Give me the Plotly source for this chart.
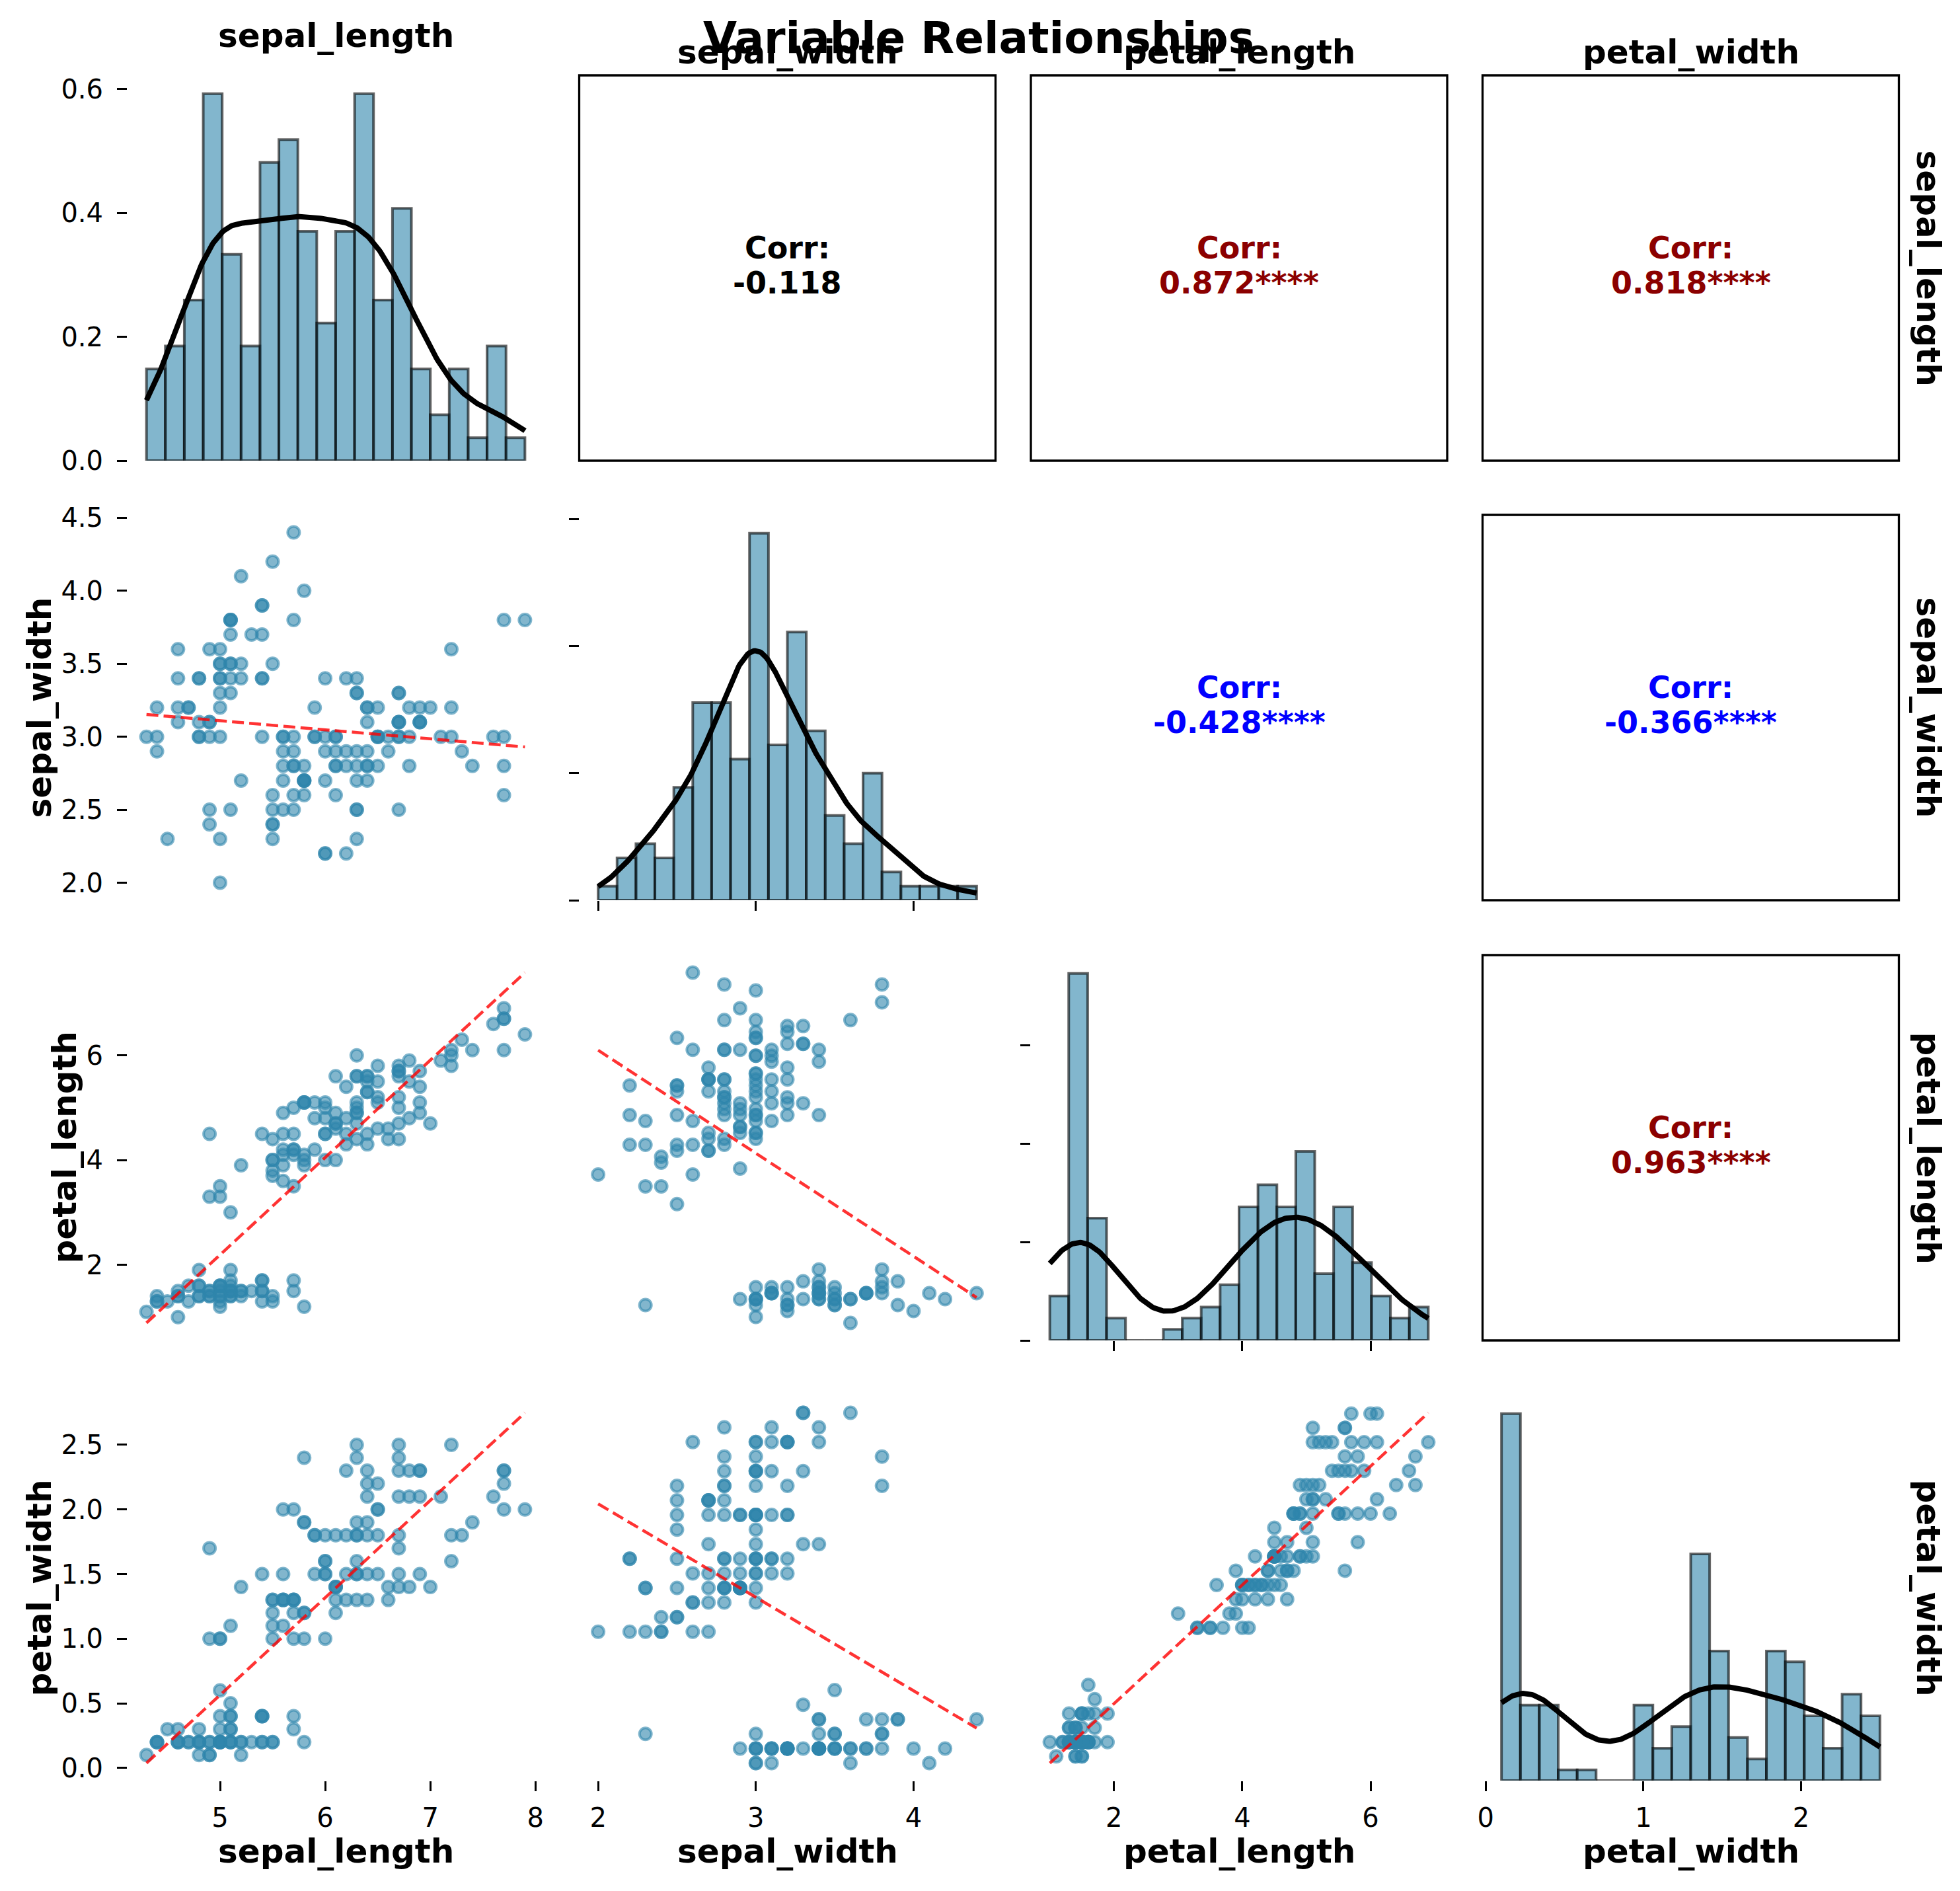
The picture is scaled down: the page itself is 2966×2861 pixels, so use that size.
import numpy as np
import plotly.graph_objects as go

variables = ["sepal_length", "sepal_width", "petal_length", "petal_width"]

sepal_length = [5.1, 4.9, 4.7, 4.6, 5.0, 5.4, 4.6, 5.0, 4.4, 4.9, 5.4, 4.8, 4.8, 4.3, 5.8, 5.7, 5.4, 5.1, 5.7, 5.1,
                5.4, 5.1, 4.6, 5.1, 4.8, 5.0, 5.0, 5.2, 5.2, 4.7, 4.8, 5.4, 5.2, 5.5, 4.9, 5.0, 5.5, 4.9, 4.4, 5.1,
                5.0, 4.5, 4.4, 5.0, 5.1, 4.8, 5.1, 4.6, 5.3, 5.0, 7.0, 6.4, 6.9, 5.5, 6.5, 5.7, 6.3, 4.9, 6.6, 5.2,
                5.0, 5.9, 6.0, 6.1, 5.6, 6.7, 5.6, 5.8, 6.2, 5.6, 5.9, 6.1, 6.3, 6.1, 6.4, 6.6, 6.8, 6.7, 6.0, 5.7,
                5.5, 5.5, 5.8, 6.0, 5.4, 6.0, 6.7, 6.3, 5.6, 5.5, 5.5, 6.1, 5.8, 5.0, 5.6, 5.7, 5.7, 6.2, 5.1, 5.7,
                6.3, 5.8, 7.1, 6.3, 6.5, 7.6, 4.9, 7.3, 6.7, 7.2, 6.5, 6.4, 6.8, 5.7, 5.8, 6.4, 6.5, 7.7, 7.7, 6.0,
                6.9, 5.6, 7.7, 6.3, 6.7, 7.2, 6.2, 6.1, 6.4, 7.2, 7.4, 7.9, 6.4, 6.3, 6.1, 7.7, 6.3, 6.4, 6.0, 6.9,
                6.7, 6.9, 5.8, 6.8, 6.7, 6.7, 6.3, 6.5, 6.2, 5.9]
sepal_width = [3.5, 3.0, 3.2, 3.1, 3.6, 3.9, 3.4, 3.4, 2.9, 3.1, 3.7, 3.4, 3.0, 3.0, 4.0, 4.4, 3.9, 3.5, 3.8, 3.8,
               3.4, 3.7, 3.6, 3.3, 3.4, 3.0, 3.4, 3.5, 3.4, 3.2, 3.1, 3.4, 4.1, 4.2, 3.1, 3.2, 3.5, 3.6, 3.0, 3.4,
               3.5, 2.3, 3.2, 3.5, 3.8, 3.0, 3.8, 3.2, 3.7, 3.3, 3.2, 3.2, 3.1, 2.3, 2.8, 2.8, 3.3, 2.4, 2.9, 2.7,
               2.0, 3.0, 2.2, 2.9, 2.9, 3.1, 3.0, 2.7, 2.2, 2.5, 3.2, 2.8, 2.5, 2.8, 2.9, 3.0, 2.8, 3.0, 2.9, 2.6,
               2.4, 2.4, 2.7, 2.7, 3.0, 3.4, 3.1, 2.3, 3.0, 2.5, 2.6, 3.0, 2.6, 2.3, 2.7, 3.0, 2.9, 2.9, 2.5, 2.8,
               3.3, 2.7, 3.0, 2.9, 3.0, 3.0, 2.5, 2.9, 2.5, 3.6, 3.2, 2.7, 3.0, 2.5, 2.8, 3.2, 3.0, 3.8, 2.6, 2.2,
               3.2, 2.8, 2.8, 2.7, 3.3, 3.2, 2.8, 3.0, 2.8, 3.0, 2.8, 3.8, 2.8, 2.8, 2.6, 3.0, 3.4, 3.1, 3.0, 3.1,
               3.1, 3.1, 2.7, 3.2, 3.3, 3.0, 2.5, 3.0, 3.4, 3.0]
petal_length = [1.4, 1.4, 1.3, 1.5, 1.4, 1.7, 1.4, 1.5, 1.4, 1.5, 1.5, 1.6, 1.4, 1.1, 1.2, 1.5, 1.3, 1.4, 1.7, 1.5,
                1.7, 1.5, 1.0, 1.7, 1.9, 1.6, 1.6, 1.5, 1.4, 1.6, 1.6, 1.5, 1.5, 1.4, 1.5, 1.2, 1.3, 1.4, 1.3, 1.5,
                1.3, 1.3, 1.3, 1.6, 1.9, 1.4, 1.6, 1.4, 1.5, 1.4, 4.7, 4.5, 4.9, 4.0, 4.6, 4.5, 4.7, 3.3, 4.6, 3.9,
                3.5, 4.2, 4.0, 4.7, 3.6, 4.4, 4.5, 4.1, 4.5, 3.9, 4.8, 4.0, 4.9, 4.7, 4.3, 4.4, 4.8, 5.0, 4.5, 3.5,
                3.8, 3.7, 3.9, 5.1, 4.5, 4.5, 4.7, 4.4, 4.1, 4.0, 4.4, 4.6, 4.0, 3.3, 4.2, 4.2, 4.2, 4.3, 3.0, 4.1,
                6.0, 5.1, 5.9, 5.6, 5.8, 6.6, 4.5, 6.3, 5.8, 6.1, 5.1, 5.3, 5.5, 5.0, 5.1, 5.3, 5.5, 6.7, 6.9, 5.0,
                5.7, 4.9, 6.7, 4.9, 5.7, 6.0, 4.8, 4.9, 5.6, 5.8, 6.1, 6.4, 5.6, 5.1, 5.6, 6.1, 5.6, 5.5, 4.8, 5.4,
                5.6, 5.1, 5.1, 5.9, 5.7, 5.2, 5.0, 5.2, 5.4, 5.1]
petal_width = [0.2, 0.2, 0.2, 0.2, 0.2, 0.4, 0.3, 0.2, 0.2, 0.1, 0.2, 0.2, 0.1, 0.1, 0.2, 0.4, 0.4, 0.3, 0.3, 0.3,
               0.2, 0.4, 0.2, 0.5, 0.2, 0.2, 0.4, 0.2, 0.2, 0.2, 0.2, 0.4, 0.1, 0.2, 0.2, 0.2, 0.2, 0.1, 0.2, 0.2,
               0.3, 0.3, 0.2, 0.6, 0.4, 0.3, 0.2, 0.2, 0.2, 0.2, 1.4, 1.5, 1.5, 1.3, 1.5, 1.3, 1.6, 1.0, 1.3, 1.4,
               1.0, 1.5, 1.0, 1.4, 1.3, 1.4, 1.5, 1.0, 1.5, 1.1, 1.8, 1.3, 1.5, 1.2, 1.3, 1.4, 1.4, 1.7, 1.5, 1.0,
               1.1, 1.0, 1.2, 1.6, 1.5, 1.6, 1.5, 1.3, 1.3, 1.3, 1.2, 1.4, 1.2, 1.0, 1.3, 1.2, 1.3, 1.3, 1.1, 1.3,
               2.5, 1.9, 2.1, 1.8, 2.2, 2.1, 1.7, 1.8, 1.8, 2.5, 2.0, 1.9, 2.1, 2.0, 2.4, 2.3, 1.8, 2.2, 2.3, 1.5,
               2.3, 2.0, 2.0, 1.8, 2.1, 1.8, 1.8, 1.8, 2.1, 1.6, 1.9, 2.0, 2.2, 1.5, 1.4, 2.3, 2.4, 1.8, 1.8, 2.1,
               2.4, 2.3, 1.9, 2.3, 2.5, 2.3, 1.9, 2.0, 2.3, 1.8]

# tick steps for each variable's value axis, and for the diagonal density axes
value_dtick = [1, 0.5, 2, 0.5]
bottom_dtick = [1, 1, 2, 1]
density_dtick = [0.2, 0.5, 0.2, None]

# upper-triangle panels that carry a frame
framed = {(0, 1), (0, 2), (0, 3), (1, 3), (2, 3)}

# ---------------- layout constants (pixels in the 2966x2861 canvas) ----------------
W, H = 2966, 2861
col_left = [193, 876.5, 1560, 2243.5]
col_w = 630
row_top = [114, 779, 1445, 2111]
row_h = 583

FONT = "DejaVu Sans"
POINT = "rgba(46,134,171,0.6)"
BAR = "rgba(46,134,171,0.6)"
LINE_RED = "rgba(255,0,0,0.8)"

columns = {
    "sepal_length": np.array(sepal_length),
    "sepal_width": np.array(sepal_width),
    "petal_length": np.array(petal_length),
    "petal_width": np.array(petal_width),
}


def px_x(p):
    return p / W


def px_y(p):
    return 1 - p / H


def kde(values, grid):
    n = len(values)
    bw = np.std(values, ddof=1) * n ** (-1 / 5)
    z = (grid[:, None] - values[None, :]) / bw
    return np.exp(-0.5 * z ** 2).sum(axis=1) / (n * bw * np.sqrt(2 * np.pi))


def padded(lo, hi, frac=0.05):
    span = hi - lo
    return [lo - frac * span, hi + frac * span]


fig = go.Figure()
layout = dict(
    template="none",
    width=W, height=H, autosize=False,
    margin=dict(l=0, r=0, t=0, b=0, pad=0, autoexpand=False),
    paper_bgcolor="white", plot_bgcolor="white",
    showlegend=False,
    font=dict(family=FONT, color="black", size=40),
)
annotations = []
shapes = []

n = len(variables)
for i in range(n):
    for j in range(n):
        k = i * n + j + 1
        xname = "x" if k == 1 else f"x{k}"
        yname = "y" if k == 1 else f"y{k}"
        x0p, x1p = col_left[j], col_left[j] + col_w
        y0p, y1p = row_top[i], row_top[i] + row_h
        xa = dict(
            domain=[px_x(x0p), px_x(x1p)],
            anchor=yname, showgrid=False, zeroline=False, showline=False, automargin=False,
            ticks="", showticklabels=False,
            tickfont=dict(family=FONT, size=40, color="black"),
            ticklen=15, tickwidth=3.3, tickcolor="black", ticklabelstandoff=6,
        )
        ya = dict(
            domain=[px_y(y1p), px_y(y0p)],
            anchor=xname, showgrid=False, zeroline=False, showline=False, automargin=False,
            ticks="", showticklabels=False,
            tickfont=dict(family=FONT, size=40, color="black"),
            ticklen=15, tickwidth=3.3, tickcolor="black", ticklabelstandoff=13,
        )
        xv = columns[variables[j]]
        yv = columns[variables[i]]

        if i == j:
            counts, edges = np.histogram(xv, bins=20, density=True)
            centers = (edges[:-1] + edges[1:]) / 2
            widths = np.diff(edges)
            fig.add_trace(go.Bar(
                x=centers, y=counts, width=widths, xaxis=xname, yaxis=yname,
                marker=dict(color=BAR, line=dict(color="rgba(0,0,0,0.6)", width=4)),
                hoverinfo="skip",
            ))
            grid = np.linspace(xv.min(), xv.max(), 300)
            dens = kde(xv, grid)
            fig.add_trace(go.Scatter(
                x=grid, y=dens, mode="lines", xaxis=xname, yaxis=yname,
                line=dict(color="black", width=8), hoverinfo="skip",
            ))
            xa["range"] = padded(xv.min(), xv.max())
            ya["range"] = [0, 1.05 * max(counts.max(), dens.max())]
            if density_dtick[i] is not None:
                ya.update(ticks="outside", tickmode="linear", tick0=0, dtick=density_dtick[i], tickformat=".1f")
            if i == 0:
                ya["showticklabels"] = True
            if 0 < i < n - 1:
                xa.update(ticks="outside", tickmode="linear", tick0=0, dtick=bottom_dtick[j])
        elif i > j:
            fig.add_trace(go.Scatter(
                x=xv, y=yv, mode="markers", xaxis=xname, yaxis=yname,
                marker=dict(size=18, color=POINT, line=dict(color=POINT, width=4)),
                hoverinfo="skip",
            ))
            slope, intercept = np.polyfit(xv, yv, 1)
            lx = np.array([xv.min(), xv.max()])
            ly = slope * lx + intercept
            fig.add_trace(go.Scatter(
                x=lx, y=ly, mode="lines", xaxis=xname, yaxis=yname,
                line=dict(color=LINE_RED, width=4.5, dash="18px,8px"), hoverinfo="skip",
            ))
            xa["range"] = padded(xv.min(), xv.max())
            ya["range"] = padded(min(yv.min(), ly.min()), max(yv.max(), ly.max()))
            if j == 0:
                ya.update(ticks="outside", showticklabels=True, tickmode="linear", tick0=0,
                          dtick=value_dtick[i], tickformat=".1f" if value_dtick[i] < 1 else "d")
        else:
            xa.update(range=[0, 1], visible=False)
            ya.update(range=[0, 1], visible=False)
            r = np.corrcoef(xv, yv)[0, 1]
            color = "black"
            if abs(r) > 0.3:
                color = "#8B0000" if r > 0 else "#0000FF"
            stars = "****" if abs(r) > 0.3 else ""
            cx = col_left[j] + col_w / 2
            cy = row_top[i] + row_h / 2
            for txt, off in (("Corr:", -30.6), (f"{r:.3f}{stars}", 22.1)):
                annotations.append(dict(
                    text=txt, xref="paper", yref="paper", x=px_x(cx), y=px_y(cy + off),
                    xanchor="center", yanchor="middle", showarrow=False,
                    font=dict(family=FONT, size=46, color=color, weight="bold"),
                ))
            if (i, j) in framed:
                shapes.append(dict(
                    type="rect", xref="paper", yref="paper",
                    x0=px_x(x0p), x1=px_x(x1p), y0=px_y(y1p), y1=px_y(y0p),
                    line=dict(color="black", width=3.3), layer="above",
                ))

        if i == n - 1:
            xa.update(ticks="outside", showticklabels=True, tickmode="linear", tick0=0, dtick=bottom_dtick[j])

        layout["xaxis" if k == 1 else f"xaxis{k}"] = xa
        layout["yaxis" if k == 1 else f"yaxis{k}"] = ya

# column titles on top, axis names below
title_centers = [53.9, 79.1, 79.1, 79.1]
for j, name in enumerate(variables):
    annotations.append(dict(
        text=name, xref="paper", yref="paper",
        x=px_x(col_left[j] + col_w / 2), y=px_y(title_centers[j]),
        xanchor="center", yanchor="middle", showarrow=False,
        font=dict(family=FONT, size=50, color="black", weight="bold"),
    ))
    annotations.append(dict(
        text=name, xref="paper", yref="paper",
        x=px_x(col_left[j] + col_w / 2), y=px_y(2800.7),
        xanchor="center", yanchor="middle", showarrow=False,
        font=dict(family=FONT, size=50, color="black", weight="bold"),
    ))

# row labels on the right and on the left
left_centers = [None, 59, 97, 59]
for i, name in enumerate(variables):
    cy = row_top[i] + row_h / 2
    annotations.append(dict(
        text=name, xref="paper", yref="paper", x=px_x(2918), y=px_y(cy),
        xanchor="center", yanchor="middle", showarrow=False, textangle=90,
        font=dict(family=FONT, size=50, color="black", weight="bold"),
    ))
    if left_centers[i] is not None:
        annotations.append(dict(
            text=name, xref="paper", yref="paper", x=px_x(left_centers[i]), y=px_y(cy),
            xanchor="center", yanchor="middle", showarrow=False, textangle=-90,
            font=dict(family=FONT, size=50, color="black", weight="bold"),
        ))

# figure title
annotations.append(dict(
    text="Variable Relationships", xref="paper", yref="paper", x=px_x(1481), y=px_y(57.5),
    xanchor="center", yanchor="middle", showarrow=False,
    font=dict(family=FONT, size=66, color="black", weight="bold"),
))

layout["annotations"] = annotations
layout["shapes"] = shapes
fig.update_layout(**layout)
fig.write_html("out.html")
